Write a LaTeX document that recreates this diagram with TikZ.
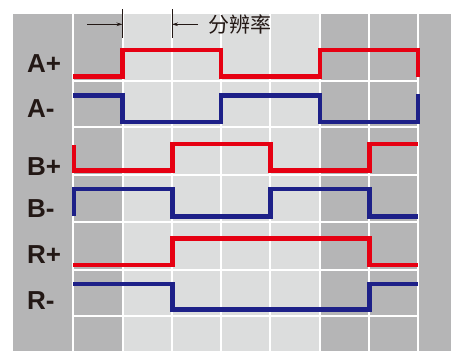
\documentclass[tikz,border=0pt]{standalone}
\usepackage{fontspec}
\setmainfont{Liberation Sans}
\newfontfamily\cjk{Noto Sans CJK SC}
\usetikzlibrary{arrows.meta}
\definecolor{dgray}{HTML}{B5B5B6}
\definecolor{lgray}{HTML}{DCDDDD}
\definecolor{sigred}{HTML}{E60012}
\definecolor{sigblue}{HTML}{1D2088}
\definecolor{ink}{HTML}{231815}
\tikzset{
  gridline/.style={draw=white,line width=1.6pt},
  redsig/.style={draw=sigred,line width=4.6pt,line join=miter},
  bluesig/.style={draw=sigblue,line width=4.6pt,line join=miter},
  siglabel/.style={anchor=base west,inner sep=0pt,text=ink,font=\fontsize{26}{26}\selectfont\bfseries},
  marker/.style={draw=ink,line width=0.9pt},
  markarrow/.style={draw=ink,line width=0.9pt,-{Stealth[length=6pt,width=3.6pt]}},
}
\begin{document}
\begin{tikzpicture}[x=1pt,y=-1pt]
\useasboundingbox (0,0) rectangle (451,351);
% backgrounds
\fill[dgray] (13,14) rectangle (451,351);
\fill[lgray] (123,14) rectangle (320,351);
% grid
\foreach \x in {73,123,172,221,270,320,369,418}
  \draw[gridline] (\x,14) -- (\x,351);
\foreach \y in {81,127,175,222,270,316}
  \draw[gridline] (73,\y) -- (418,\y);
% signals
\draw[redsig] (73,76.5) -- (122.5,76.5) -- (122.5,50) -- (221,50) -- (221,76.5) -- (320,76.5) -- (320,50) -- (418,50) -- (418,77);
\draw[bluesig] (73,95.5) -- (122.5,95.5) -- (122.5,122) -- (221,122) -- (221,95.5) -- (320,95.5) -- (320,122) -- (418,122) -- (418,94);
\draw[redsig] (74,145) -- (74,170.5) -- (172.5,170.5) -- (172.5,144) -- (270.5,144) -- (270.5,170.5) -- (369.5,170.5) -- (369.5,144) -- (418,144);
\draw[bluesig] (74,216) -- (74,189) -- (172.5,189) -- (172.5,216.5) -- (270.5,216.5) -- (270.5,189) -- (369.5,189) -- (369.5,216.5) -- (418,216.5);
\draw[redsig] (73,265) -- (172.5,265) -- (172.5,238.5) -- (369.5,238.5) -- (369.5,265) -- (418,265);
\draw[bluesig] (73,284) -- (172.5,284) -- (172.5,309.5) -- (369.5,309.5) -- (369.5,284) -- (418,284);
% labels
\node[siglabel] (lAp) at (27,72) {A+};
\node[siglabel] (lAm) at (27,117) {A-};
\node[siglabel] (lBp) at (27,175) {B+};
\node[siglabel] (lBm) at (27,217) {B-};
\node[siglabel] (lRp) at (27,263) {R+};
\node[siglabel] (lRm) at (27,309) {R-};
% resolution marker
\coordinate (m1t) at (122.5,9);
\coordinate (m1b) at (122.5,38);
\coordinate (m2t) at (172,9);
\coordinate (m2b) at (172,38);
\coordinate (a1s) at (87,24.3);
\coordinate (a1e) at (122.5,24.3);
\coordinate (a2s) at (198,24.3);
\coordinate (a2e) at (172,24.3);
\draw[marker] (m1t) -- (m1b);
\draw[marker] (m2t) -- (m2b);
\draw[markarrow] (a1s) -- (a1e);
\draw[markarrow] (a2s) -- (a2e);
\node[anchor=west,inner sep=0pt,text=ink,font=\cjk\fontsize{21}{21}\selectfont] (res) at (208,24) {分辨率};
\end{tikzpicture}
\end{document}
